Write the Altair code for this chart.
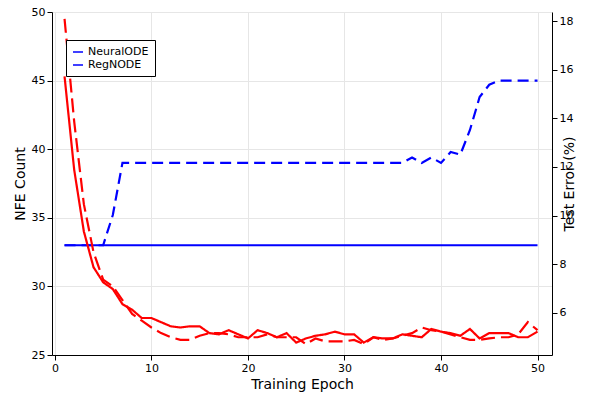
import altair as alt
import pandas as pd

epochs = list(range(1, 51))
nfe_neural = [33, 33, 33, 33, 33, 35.2] + [39] * 30 + [39.4, 39, 39.4, 39, 39.8, 39.6, 41.4, 43.8, 44.7, 45, 45, 45, 45, 45]
nfe_reg = [33] * 50
err_reg = [15.72, 11.88, 9.35, 7.88, 7.26, 6.98, 6.36, 6.13, 5.79, 5.79,
           5.62, 5.45, 5.40, 5.45, 5.45, 5.17, 5.12, 5.29, 5.12, 4.95,
           5.29, 5.17, 5.00, 5.17, 4.78, 4.95, 5.06, 5.12, 5.23, 5.12,
           5.12, 4.78, 5.00, 4.95, 4.95, 5.12, 5.06, 5.00, 5.34, 5.23,
           5.17, 5.06, 5.34, 4.95, 5.17, 5.17, 5.17, 5.00, 5.00, 5.23]
err_neural = [18.09, 13.86, 10.47, 8.50, 7.37, 7.09, 6.53, 5.96, 5.68, 5.40,
              5.17, 5.00, 4.89, 4.89, 5.06, 5.17, 5.17, 5.12, 5.00, 5.00,
              5.00, 5.12, 5.00, 5.00, 5.00, 4.72, 4.95, 4.83, 4.83, 4.83,
              4.89, 4.72, 5.00, 4.89, 4.95, 5.06, 5.17, 5.40, 5.29, 5.23,
              5.12, 5.00, 4.89, 4.89, 4.95, 5.00, 5.00, 5.12, 5.62, 5.29]

nfe = pd.concat([
    pd.DataFrame({"epoch": epochs, "v": nfe_neural, "model": "NeuralODE"}),
    pd.DataFrame({"epoch": epochs, "v": nfe_reg, "model": "RegNODE"}),
])
err = pd.concat([
    pd.DataFrame({"epoch": epochs, "v": err_neural, "model": "NeuralODE"}),
    pd.DataFrame({"epoch": epochs, "v": err_reg, "model": "RegNODE"}),
])

xenc = alt.X("epoch:Q", title="Training Epoch", scale=alt.Scale(domain=[-0.3, 51.5], nice=False),
             axis=alt.Axis(values=[0, 10, 20, 30, 40, 50]))
dash = alt.StrokeDash("model:N", scale=alt.Scale(domain=["NeuralODE", "RegNODE"], range=[[11, 6], [1, 0]]),
                      legend=alt.Legend(title=None, orient="none", legendX=14, legendY=28,
                                        strokeColor="black", fillColor="white", padding=6,
                                        symbolStrokeColor="blue", symbolType="stroke",
                                        symbolStrokeWidth=1.5, labelFontSize=11))

left = alt.Chart(nfe).mark_line(color="blue", strokeWidth=2.2).encode(
    x=xenc,
    y=alt.Y("v:Q", title="NFE Count", scale=alt.Scale(domain=[25, 50], nice=False),
            axis=alt.Axis(values=[25, 30, 35, 40, 45, 50])),
    strokeDash=dash,
    detail="model:N",
)
right = alt.Chart(err).mark_line(color="red", strokeWidth=2.2).encode(
    x=xenc,
    y=alt.Y("v:Q", title="Test Error (%)", scale=alt.Scale(domain=[4.27, 18.37], nice=False),
            axis=alt.Axis(orient="right", values=[6, 8, 10, 12, 14, 16, 18], grid=False, titleAngle=270)),
    strokeDash=alt.StrokeDash("model:N", scale=alt.Scale(domain=["NeuralODE", "RegNODE"], range=[[14, 6], [1, 0]]), legend=None),
    detail="model:N",
)

chart = alt.layer(left, right).resolve_scale(y="independent", strokeDash="independent").properties(
    width=500, height=343,
    autosize=alt.AutoSizeParams(type="none"),
    padding={"left": 44, "top": 4, "right": 40, "bottom": 37},
).configure_axis(
    grid=True, gridColor="#e6e6e6", domainColor="black", tickColor="black",
    labelColor="black", labelFont="DejaVu Sans", labelFontSize=11, titleFont="DejaVu Sans",
    titleFontSize=14, titleFontWeight="normal", titleColor="black",
).configure_legend(labelFont="DejaVu Sans").configure_view(stroke=None)

chart.save("out.html", embed_options={"renderer": "svg", "actions": False})
